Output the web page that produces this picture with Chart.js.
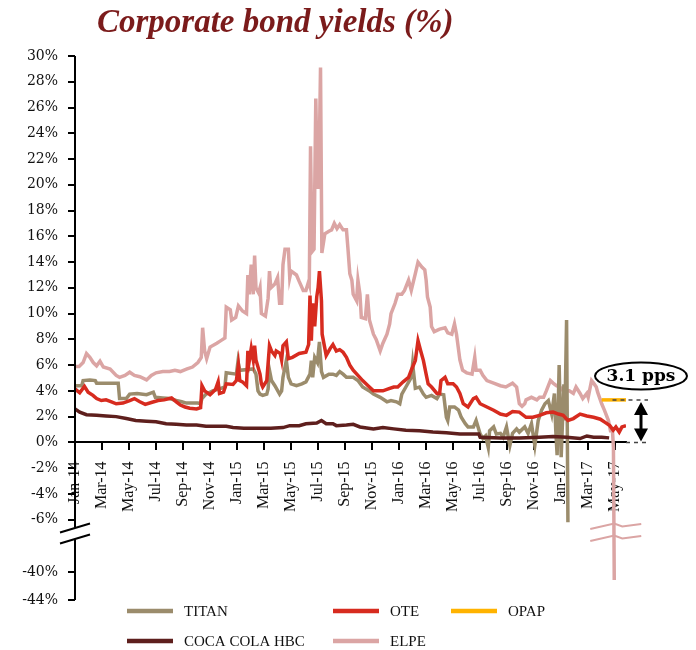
<!DOCTYPE html>
<html>
<head>
<meta charset="utf-8">
<title>Corporate bond yields</title>
<script src="https://cdn.jsdelivr.net/npm/chart.js@4.4.1/dist/chart.umd.min.js"></script>
<style>
  html, body { margin: 0; padding: 0; background: #fff; }
  #wrap { position: relative; width: 696px; height: 650px; }
  #title {
    position: absolute; left: 97px; top: 5px; margin: 0;
    font: italic bold 33px "Liberation Serif", serif; line-height: 33px;
    color: #7b1b1b; white-space: nowrap;
  }
</style>
</head>
<body>
<div id="wrap">
  <h1 id="title">Corporate bond yields (%)</h1>
  <canvas id="bondChart" width="696" height="650"></canvas>
</div>
<script>
// x = months since 1 Jan 2014, y = yield in %
const xTickLabels = ['Jan-14', 'Mar-14', 'May-14', 'Jul-14', 'Sep-14', 'Nov-14',
  'Jan-15', 'Mar-15', 'May-15', 'Jul-15', 'Sep-15', 'Nov-15',
  'Jan-16', 'Mar-16', 'May-16', 'Jul-16', 'Sep-16', 'Nov-16',
  'Jan-17', 'Mar-17', 'May-17'];
const yTickValues = [30, 28, 26, 24, 22, 20, 18, 16, 14, 12, 10, 8, 6, 4, 2, 0, -2, -4, -6, -40, -44];

const titan = [[0,4.4],[0.5,4.4],[0.6,4.8],[1.1,4.85],[1.5,4.8],[1.6,4.6],[3.2,4.6],[3.3,3.4],[3.8,3.4],
  [4.05,3.75],[4.6,3.8],[5.3,3.7],[5.8,3.9],[5.95,3.5],[6.5,3.45],[7.0,3.4],[7.5,3.25],[7.9,3.15],[8.25,3.05],
  [9.1,3.05],[9.3,3.0],[9.4,3.4],[9.7,3.75],[10.2,4.0],[10.7,4.15],[11.1,4.3],[11.2,5.4],[11.95,5.3],[12.07,6.3],
  [12.2,5.6],[13.2,5.7],[13.4,5.3],[13.55,4.0],[13.7,3.75],[13.9,3.65],[14.2,3.75],[14.3,4.15],[14.4,5.6],
  [14.55,4.8],[14.8,4.4],[15.15,3.75],[15.3,4.0],[15.4,5.05],[15.65,6.35],[15.8,5.05],[16.0,4.55],[16.4,4.4],
  [16.8,4.55],[17.1,4.7],[17.4,5.3],[17.5,6.35],[17.6,5.05],[17.75,6.6],[17.95,6.2],[18.1,7.8],[18.25,5.5],
  [18.4,5.05],[18.8,5.3],[19.1,5.3],[19.35,5.2],[19.6,5.5],[19.85,5.3],[20.1,5.05],[20.6,5.05],[20.95,4.8],
  [21.3,4.3],[21.8,4.0],[22.1,3.75],[22.6,3.5],[23.1,3.15],[23.4,3.25],[23.8,3.15],[24.05,3.0],[24.2,3.75],
  [24.5,4.3],[24.9,5.05],[25.0,6.1],[25.2,4.2],[25.5,4.3],[25.8,3.75],[26.0,3.5],[26.4,3.65],[26.8,3.4],
  [27.0,3.75],[27.3,3.7],[27.5,1.95],[27.6,1.7],[27.75,2.75],[28.1,2.75],[28.4,2.5],[28.6,1.95],[28.9,1.45],
  [29.1,1.2],[29.5,1.2],[29.7,1.7],[30.0,0.65],[30.2,0.3],[30.4,0.5],[30.6,-0.4],[30.7,0.9],[31.0,1.2],
  [31.2,0.65],[31.5,0.7],[31.7,0.4],[31.95,1.2],[32.2,-0.25],[32.4,0.7],[32.7,1.05],[32.9,0.8],[33.3,1.2],
  [33.55,0.7],[33.8,1.45],[34.05,-0.25],[34.3,1.7],[34.55,2.5],[34.8,3.0],[35.05,3.25],[35.3,2.2],[35.5,3.8],
  [35.6,0.9],[35.7,-1.0],[35.85,6.0],[36.0,-1.15],[36.2,4.5],[36.27,1.7],[36.4,9.5],[36.5,-6.2]];

const ote = [[0,4.15],[0.35,3.85],[0.7,4.35],[0.97,3.9],[1.33,3.65],[1.6,3.4],[1.95,3.25],[2.3,3.3],[2.7,3.15],
  [3.05,3.0],[3.55,3.05],[4.05,3.25],[4.4,3.4],[4.8,3.15],[5.2,2.95],[5.65,3.1],[6.15,3.25],[6.6,3.3],[7.15,3.45],
  [7.5,3.15],[7.8,2.9],[8.15,2.75],[8.5,2.65],[9.0,2.6],[9.3,2.7],[9.4,4.4],[9.6,4.0],[10.0,3.7],[10.4,4.1],
  [10.6,4.7],[10.7,3.8],[11.0,3.9],[11.2,4.55],[11.7,4.5],[11.95,4.8],[12.1,6.0],[12.2,4.8],[12.4,4.7],[12.7,4.4],
  [12.8,7.1],[12.9,6.3],[13.05,7.3],[13.2,6.4],[13.3,7.5],[13.4,6.4],[13.7,5.3],[13.8,4.55],[13.9,4.3],[14.2,4.8],
  [14.4,7.5],[14.55,7.1],[14.8,6.75],[14.9,7.1],[15.2,6.9],[15.3,6.4],[15.4,7.5],[15.65,7.8],[15.8,6.5],[16.1,6.6],
  [16.6,6.9],[17.1,7.0],[17.3,7.6],[17.4,11.4],[17.5,7.9],[17.6,10.8],[17.75,9.0],[17.9,11.3],[18.0,12.0],
  [18.1,13.3],[18.25,11.0],[18.3,8.4],[18.5,7.3],[18.6,6.75],[18.9,7.3],[19.1,7.6],[19.35,7.1],[19.6,7.2],
  [19.85,7.0],[20.1,6.6],[20.35,6.0],[20.6,5.6],[20.95,5.2],[21.3,4.8],[21.7,4.4],[22.1,4.0],[22.4,4.0],[22.8,4.0],
  [23.2,4.15],[23.6,4.3],[23.9,4.3],[24.3,4.7],[24.7,5.05],[24.9,5.6],[25.2,6.35],[25.4,7.9],[25.6,7.1],
  [25.8,6.35],[26.0,5.3],[26.15,4.55],[26.4,4.3],[26.8,3.8],[27.0,3.8],[27.1,4.8],[27.4,5.05],[27.6,4.55],
  [28.0,4.55],[28.25,4.3],[28.5,3.8],[28.75,3.0],[29.1,2.75],[29.5,3.4],[29.7,3.5],[30.0,3.0],[30.5,2.75],
  [31.0,2.5],[31.5,2.2],[31.95,2.1],[32.4,2.4],[32.9,2.35],[33.4,1.95],[33.9,1.95],[34.4,2.1],[34.9,2.3],
  [35.4,2.35],[35.8,2.2],[36.15,2.1],[36.5,1.7],[36.9,1.85],[37.4,2.2],[37.9,2.05],[38.4,1.95],[38.9,1.8],
  [39.25,1.55],[39.6,1.3],[39.85,0.95],[40.05,1.2],[40.3,0.8],[40.5,1.2],[40.8,1.3]];

const opap = [[39.0,3.3],[40.8,3.3]];

const cocaCola = [[0,2.6],[0.35,2.35],[0.85,2.15],[1.6,2.1],[2.3,2.05],[3.05,2.0],[3.8,1.85],[4.5,1.7],
  [5.3,1.65],[6.0,1.6],[6.75,1.45],[7.5,1.4],[8.25,1.35],[9.0,1.35],[9.7,1.25],[10.5,1.25],[11.2,1.25],
  [11.7,1.15],[12.5,1.1],[13.5,1.1],[14.5,1.1],[15.4,1.15],[15.9,1.3],[16.6,1.3],[17.1,1.45],[17.9,1.5],
  [18.25,1.7],[18.6,1.45],[19.1,1.45],[19.35,1.3],[20.1,1.35],[20.6,1.4],[21.1,1.2],[22.1,1.05],[22.8,1.15],
  [23.6,1.05],[24.5,0.95],[25.5,0.9],[26.5,0.8],[27.5,0.75],[28.5,0.65],[29.5,0.65],[29.9,0.65],[30.0,0.4],
  [31.5,0.35],[32.9,0.35],[34.4,0.4],[35.4,0.45],[36.4,0.4],[37.4,0.3],[37.9,0.5],[38.4,0.4],[39.0,0.4],
  [39.55,0.35]];

const elpe = [[0,5.9],[0.3,5.9],[0.6,6.2],[0.85,6.9],[1.1,6.6],[1.35,6.2],[1.6,5.95],[1.85,6.3],[2.1,5.85],
  [2.6,5.7],[3.05,5.2],[3.3,5.05],[3.7,5.2],[4.05,5.45],[4.4,5.2],[4.8,5.1],[5.3,4.85],[5.65,5.2],[6.0,5.4],
  [6.5,5.5],[7.0,5.5],[7.4,5.6],[7.8,5.5],[8.3,5.7],[8.7,5.85],[9.1,6.2],[9.35,6.6],[9.45,8.9],[9.6,7.1],
  [9.75,6.5],[10.0,7.4],[10.5,7.7],[10.8,7.9],[11.1,8.1],[11.2,10.5],[11.5,10.3],[11.6,9.5],[11.9,9.7],
  [12.1,10.6],[12.4,10.2],[12.7,10.0],[12.8,13.0],[12.9,11.5],[13.05,13.8],[13.2,11.5],[13.3,14.5],[13.4,12.0],
  [13.6,11.6],[13.7,12.0],[13.8,10.0],[14.1,9.8],[14.3,11.2],[14.4,13.3],[14.5,12.0],[14.8,12.3],[15.0,12.8],
  [15.15,10.8],[15.3,10.8],[15.4,13.8],[15.55,15.0],[15.8,15.0],[15.9,12.8],[16.0,13.3],[16.4,13.0],[16.6,12.5],
  [16.9,11.8],[17.1,11.8],[17.3,12.5],[17.35,12.3],[17.44,23.0],[17.55,14.8],[17.7,15.0],[17.83,26.7],
  [17.95,19.8],[18.05,19.8],[18.18,29.1],[18.28,14.7],[18.5,16.2],[18.8,16.4],[19.0,16.5],[19.2,17.0],
  [19.4,16.6],[19.6,16.9],[19.85,16.5],[20.1,16.5],[20.2,15.2],[20.35,13.1],[20.5,12.6],[20.6,11.5],[20.85,11.0],
  [20.95,12.6],[21.1,11.5],[21.2,9.7],[21.5,9.6],[21.65,11.5],[21.8,9.5],[22.1,8.4],[22.3,8.0],[22.6,7.1],
  [22.8,7.7],[23.1,8.4],[23.3,9.2],[23.4,10.0],[23.7,10.8],[23.9,11.5],[24.2,11.5],[24.4,11.8],[24.7,12.6],
  [24.9,11.8],[25.2,13.1],[25.4,14.0],[25.7,13.6],[25.9,13.4],[26.0,12.6],[26.1,11.3],[26.3,10.5],[26.4,9.0],
  [26.6,8.6],[27.0,8.8],[27.4,8.9],[27.6,8.5],[27.9,8.4],[28.1,9.2],[28.25,8.4],[28.5,6.4],[28.7,5.6],[29.0,5.4],
  [29.4,5.3],[29.6,6.6],[29.7,5.6],[30.0,5.6],[30.2,5.2],[30.5,4.8],[31.0,4.6],[31.5,4.4],[31.9,4.3],[32.4,4.6],
  [32.7,4.3],[32.9,3.0],[33.1,2.8],[33.3,3.0],[33.4,3.3],[33.8,3.5],[34.2,3.3],[34.4,3.5],[34.7,3.5],[34.9,4.0],
  [35.2,4.8],[35.4,4.6],[35.65,4.4],[35.9,4.3],[36.15,4.0],[36.4,4.0],[36.6,4.0],[36.9,3.8],[37.1,4.3],
  [37.4,3.8],[37.6,3.4],[37.9,3.8],[38.0,3.5],[38.25,4.8],[38.4,4.6],[38.6,4.3],[38.7,3.9],[39.0,3.0],[39.2,2.5],
  [39.5,1.7],[39.65,0.9],[39.8,0.9],[39.87,-0.4],[39.93,-41.1]];

const spreadLabel = '3.1 pps';

const colors = {
  titan: '#9b8c6c',
  ote: '#d72b1f',
  opap: '#ffb300',
  cocaCola: '#5e1f1d',
  elpe: '#dba5a4'
};

// linear scale with a gap between gapTop and gapBottom
class BrokenLinearScale extends Chart.LinearScale {
  static id = 'brokenLinear';
  static defaults = {};

  getPixelForValue(v) {
    if (v === null || v === undefined || isNaN(v)) return NaN;
    const o = this.options;
    const su = o.upperShare, sg = o.gapShare, sl = 1 - su - sg;
    let f;
    if (v >= o.gapTop) f = (this.max - v) / (this.max - o.gapTop) * su;
    else if (v >= o.gapBottom) f = su + (o.gapTop - v) / (o.gapTop - o.gapBottom) * sg;
    else f = su + sg + (o.gapBottom - v) / (o.gapBottom - this.min) * sl;
    return this.top + f * (this.bottom - this.top);
  }

  getValueForPixel(p) {
    const o = this.options;
    const su = o.upperShare, sg = o.gapShare, sl = 1 - su - sg;
    const f = (p - this.top) / (this.bottom - this.top);
    if (f <= su) return this.max - f / su * (this.max - o.gapTop);
    if (f <= su + sg) return o.gapTop - (f - su) / sg * (o.gapTop - o.gapBottom);
    return o.gapBottom - (f - su - sg) / sl * (o.gapBottom - this.min);
  }
}
Chart.register(BrokenLinearScale);

const line = (label, points, color, order) => ({
  label,
  data: points.map(([x, y]) => ({x, y})),
  borderColor: color,
  backgroundColor: color,
  borderWidth: 3.5,
  pointRadius: 0,
  tension: 0,
  order
});

const extras = {
  id: 'extras',
  afterDatasetsDraw(chart) {
    const {ctx, chartArea: area, scales: {x, y}} = chart;
    const yb = y.getPixelForValue(y.options.gapTop);
    ctx.save();

    // y axis line with break
    ctx.strokeStyle = '#000';
    ctx.lineWidth = 2;
    ctx.beginPath();
    ctx.moveTo(area.left, area.top);
    ctx.lineTo(area.left, yb - 5);
    ctx.moveTo(area.left, yb + 7);
    ctx.lineTo(area.left, area.bottom);
    ctx.stroke();
    ctx.beginPath();
    ctx.moveTo(area.left - 15, yb);
    ctx.lineTo(area.left + 15, yb - 9);
    ctx.moveTo(area.left - 15, yb + 11);
    ctx.lineTo(area.left + 15, yb + 2);
    ctx.stroke();

    // break marks on the ELPE line
    const last = elpe[elpe.length - 1];
    const xe = x.getPixelForValue(last[0]);
    ctx.strokeStyle = colors.elpe;
    ctx.lineWidth = 2;
    [yb - 9, yb + 3].forEach(yy => {
      ctx.beginPath();
      ctx.moveTo(xe - 24, yy + 5.5);
      ctx.lineTo(xe, yy);
      ctx.lineTo(xe + 8, yy + 3);
      ctx.lineTo(xe + 27, yy + 0.5);
      ctx.stroke();
    });

    // spread annotation OPAP vs zero
    const opapLevel = opap[opap.length - 1][1];
    const yTop = y.getPixelForValue(opapLevel);
    const yZero = y.getPixelForValue(0);
    const xa = area.right + 15;
    ctx.strokeStyle = '#444';
    ctx.lineWidth = 1.5;
    ctx.setLineDash([4, 4]);
    ctx.beginPath();
    ctx.moveTo(x.getPixelForValue(39.8), yTop);
    ctx.lineTo(area.right + 22, yTop);
    ctx.moveTo(area.right, yZero);
    ctx.lineTo(area.right + 22, yZero);
    ctx.stroke();
    ctx.setLineDash([]);

    ctx.strokeStyle = '#000';
    ctx.fillStyle = '#000';
    ctx.lineWidth = 3;
    ctx.beginPath();
    ctx.moveTo(xa, yTop + 10);
    ctx.lineTo(xa, yZero - 10);
    ctx.stroke();
    ctx.beginPath();
    ctx.moveTo(xa, yTop + 2);
    ctx.lineTo(xa - 7, yTop + 15);
    ctx.lineTo(xa + 7, yTop + 15);
    ctx.closePath();
    ctx.moveTo(xa, yZero - 1);
    ctx.lineTo(xa - 7, yZero - 14);
    ctx.lineTo(xa + 7, yZero - 14);
    ctx.closePath();
    ctx.fill();

    ctx.lineWidth = 2;
    ctx.fillStyle = '#fff';
    ctx.beginPath();
    ctx.ellipse(xa, yTop - 24, 46, 13.5, 0, 0, Math.PI * 2);
    ctx.fill();
    ctx.stroke();
    ctx.fillStyle = '#000';
    ctx.font = 'bold 17px "DejaVu Serif", serif';
    ctx.textAlign = 'center';
    ctx.textBaseline = 'middle';
    ctx.fillText(spreadLabel, xa, yTop - 23);
    ctx.restore();
  },
  afterDraw(chart) {
    const {ctx} = chart;
    const items = [
      ['TITAN', colors.titan, 127, 611],
      ['OTE', colors.ote, 333, 611],
      ['OPAP', colors.opap, 451, 611],
      ['COCA COLA HBC', colors.cocaCola, 127, 641],
      ['ELPE', colors.elpe, 333, 641]
    ];
    ctx.save();
    ctx.font = '15px "Liberation Serif", serif';
    ctx.textBaseline = 'middle';
    ctx.textAlign = 'left';
    items.forEach(([label, color, lx, ly]) => {
      ctx.strokeStyle = color;
      ctx.lineWidth = 4.5;
      ctx.beginPath();
      ctx.moveTo(lx, ly);
      ctx.lineTo(lx + 46, ly);
      ctx.stroke();
      ctx.fillStyle = '#111';
      ctx.fillText(label, lx + 57, ly + 1.5);
    });
    ctx.restore();
  }
};

new Chart(document.getElementById('bondChart'), {
  type: 'line',
  data: {
    datasets: [
      line('TITAN', titan, colors.titan, 3),
      line('OTE', ote, colors.ote, 1),
      line('OPAP', opap, colors.opap, 0),
      line('COCA COLA HBC', cocaCola, colors.cocaCola, 2),
      line('ELPE', elpe, colors.elpe, 4)
    ]
  },
  options: {
    responsive: false,
    animation: false,
    events: [],
    layout: { padding: { top: 56, right: 70, bottom: 50, left: 0 } },
    plugins: {
      legend: { display: false },
      tooltip: { enabled: false }
    },
    scales: {
      x: {
        type: 'linear',
        position: { y: 0 },
        min: 0,
        max: 40.8,
        afterBuildTicks: s => { s.ticks = xTickLabels.map((_, i) => ({ value: i * 2 })); },
        ticks: {
          autoSkip: false,
          minRotation: 90,
          maxRotation: 90,
          padding: 12,
          color: '#111',
          font: { family: '"Liberation Serif", serif', size: 16 },
          callback: v => xTickLabels[Math.round(v / 2)]
        },
        grid: { drawOnChartArea: false, drawTicks: true, tickLength: 7, color: '#000', lineWidth: 2 },
        border: { display: true, color: '#000', width: 2 }
      },
      y: {
        type: 'brokenLinear',
        min: -44,
        max: 30,
        gapTop: -7,
        gapBottom: -37,
        upperShare: 0.876,
        gapShare: 0.0355,
        afterBuildTicks: s => { s.ticks = yTickValues.map(value => ({ value })); },
        afterFit: s => { s.width = 75; },
        ticks: {
          padding: 10,
          color: '#111',
          font: { family: '"DejaVu Serif", serif', size: 14 },
          callback: v => v + '%'
        },
        grid: { drawOnChartArea: false, drawTicks: true, tickLength: 7, color: '#000', lineWidth: 2 },
        border: { display: false }
      }
    }
  },
  plugins: [extras]
});
</script>
</body>
</html>
